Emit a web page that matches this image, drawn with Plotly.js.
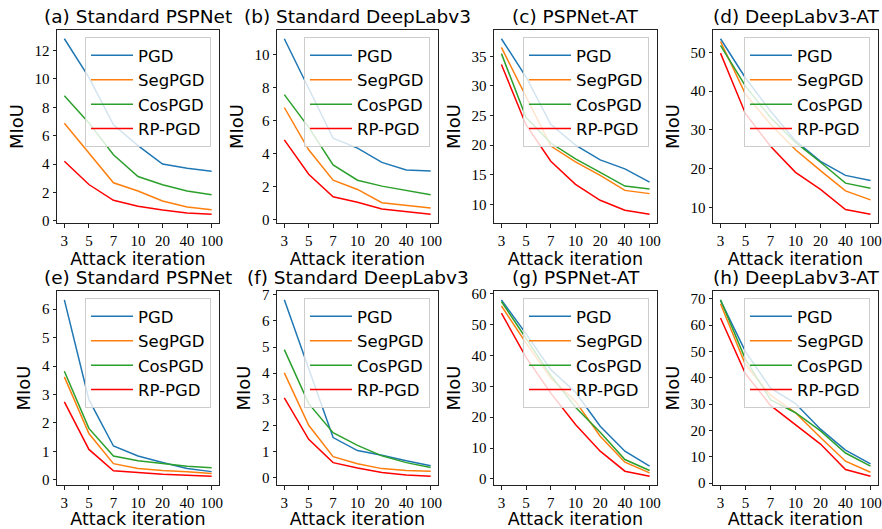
<!DOCTYPE html>
<html>
<head>
<meta charset="utf-8">
<script src="https://cdn.plot.ly/plotly-3.0.1.min.js"></script>
<style>html,body{margin:0;padding:0;background:#fff;}#chart{width:882px;height:529px;}</style>
</head>
<body>
<div id="chart"></div>
<script>
const iterations = ['3', '5', '7', '10', '20', '40', '100'];
const seriesNames = ['PGD', 'SegPGD', 'CosPGD', 'RP-PGD'];
const panelTitles = ['(a) Standard PSPNet', '(b) Standard DeepLabv3', '(c) PSPNet-AT', '(d) DeepLabv3-AT',
                     '(e) Standard PSPNet', '(f) Standard DeepLabv3', '(g) PSPNet-AT', '(h) DeepLabv3-AT'];

// (a) Standard PSPNet
const a_pgd    = [12.82, 10.1, 6.76, 5.3, 4.0, 3.7, 3.5];
const a_segpgd = [6.88, 4.75, 2.68, 2.1, 1.4, 0.98, 0.79];
const a_cospgd = [8.81, 6.9, 4.66, 3.12, 2.54, 2.1, 1.84];
const a_rppgd  = [4.2, 2.56, 1.45, 1.03, 0.77, 0.56, 0.47];
// (b) Standard DeepLabv3
const b_pgd    = [10.96, 7.96, 4.94, 4.34, 3.48, 3.02, 2.96];
const b_segpgd = [6.8, 4.24, 2.4, 1.84, 1.04, 0.86, 0.72];
const b_cospgd = [7.58, 5.6, 3.32, 2.4, 2.04, 1.8, 1.52];
const b_rppgd  = [4.84, 2.76, 1.4, 1.06, 0.66, 0.48, 0.34];
// (c) PSPNet-AT
const c_pgd    = [37.96, 31.5, 23.5, 20.0, 17.5, 15.98, 13.75];
const c_segpgd = [36.5, 28.3, 19.84, 17.16, 14.87, 12.35, 11.8];
const c_cospgd = [35.45, 24.65, 20.35, 17.66, 15.4, 13.08, 12.57];
const c_rppgd  = [33.6, 23.4, 17.27, 13.36, 10.67, 9.0, 8.32];
// (d) DeepLabv3-AT
const d_pgd    = [53.5, 43.4, 34.9, 27.2, 21.9, 18.3, 17.0];
const d_segpgd = [52.8, 39.2, 31.5, 24.9, 19.55, 14.3, 12.0];
const d_cospgd = [51.8, 41.3, 33.2, 26.8, 21.7, 16.3, 15.0];
const d_rppgd  = [49.8, 34.2, 25.8, 19.1, 14.7, 9.5, 8.3];
// (e) Standard PSPNet
const e_pgd    = [6.33, 2.82, 1.19, 0.84, 0.61, 0.4, 0.29];
const e_segpgd = [3.62, 1.63, 0.57, 0.4, 0.33, 0.29, 0.22];
const e_cospgd = [3.82, 1.81, 0.84, 0.67, 0.58, 0.48, 0.43];
const e_rppgd  = [2.74, 1.07, 0.32, 0.25, 0.2, 0.16, 0.13];
// (f) Standard DeepLabv3
const f_pgd    = [6.81, 4.2, 1.53, 1.03, 0.85, 0.64, 0.45];
const f_segpgd = [4.01, 2.0, 0.8, 0.53, 0.34, 0.27, 0.24];
const f_cospgd = [4.9, 2.83, 1.72, 1.23, 0.83, 0.57, 0.38];
const f_rppgd  = [3.05, 1.46, 0.57, 0.36, 0.19, 0.1, 0.05];
// (g) PSPNet-AT
const g_pgd    = [58.05, 47.0, 35.4, 28.06, 17.05, 8.96, 4.1];
const g_segpgd = [56.1, 44.0, 32.7, 25.1, 13.8, 5.4, 1.94];
const g_cospgd = [57.5, 45.5, 33.5, 23.2, 15.1, 6.26, 2.7];
const g_rppgd  = [53.7, 39.4, 27.8, 17.6, 8.96, 2.48, 0.86];
// (h) DeepLabv3-AT
const h_pgd    = [69.4, 49.9, 36.1, 30.2, 20.45, 12.5, 7.3];
const h_segpgd = [68.1, 44.9, 33.4, 26.7, 17.3, 8.3, 4.1];
const h_cospgd = [69.6, 47.0, 31.7, 26.7, 19.8, 11.4, 6.4];
const h_rppgd  = [62.7, 41.5, 29.5, 22.0, 14.8, 5.1, 2.6];

const panelData = [
  [a_pgd, a_segpgd, a_cospgd, a_rppgd],
  [b_pgd, b_segpgd, b_cospgd, b_rppgd],
  [c_pgd, c_segpgd, c_cospgd, c_rppgd],
  [d_pgd, d_segpgd, d_cospgd, d_rppgd],
  [e_pgd, e_segpgd, e_cospgd, e_rppgd],
  [f_pgd, f_segpgd, f_cospgd, f_rppgd],
  [g_pgd, g_segpgd, g_cospgd, g_rppgd],
  [h_pgd, h_segpgd, h_cospgd, h_rppgd]
];
const yDticks = [2, 2, 5, 10, 1, 1, 10, 10];

const colors = ['#1f77b4', '#ff7f0e', '#2ca02c', '#ff0000'];
const W = 882, H = 529;
const colPx = [[57, 219], [277, 438], [494, 657], [713, 878]];
const rowPx = [[30, 223], [291, 485]];

const sans = 'DejaVu Sans';
const serif = 'Liberation Serif';

const traces = [];
const layout = {
  width: W, height: H,
  margin: {l: 0, r: 0, t: 0, b: 0},
  paper_bgcolor: '#ffffff', plot_bgcolor: '#ffffff',
  showlegend: true,
  font: {family: sans, color: '#000'},
  annotations: []
};

for (let p = 0; p < 8; p++) {
  const r = Math.floor(p / 4), c = p % 4;
  const suf = p === 0 ? '' : String(p + 1);
  const legName = 'legend' + suf;
  const vals = panelData[p];
  let mn = Infinity, mx = -Infinity;
  vals.forEach(v => v.forEach(x => { mn = Math.min(mn, x); mx = Math.max(mx, x); }));
  const pad = (mx - mn) * 0.05;

  vals.forEach((v, i) => {
    traces.push({
      type: 'scatter', mode: 'lines',
      x: iterations, y: v, name: seriesNames[i],
      xaxis: 'x' + suf, yaxis: 'y' + suf,
      line: {color: colors[i], width: 1.5},
      legend: legName
    });
  });

  const xd = [colPx[c][0] / W, colPx[c][1] / W];
  const yd = [1 - rowPx[r][1] / H, 1 - rowPx[r][0] / H];

  layout['xaxis' + suf] = {
    domain: xd, anchor: 'y' + suf, type: 'category',
    range: [-0.3, 6.3], fixedrange: true,
    showline: true, mirror: true, linecolor: '#222', linewidth: 1,
    ticks: 'outside', ticklen: 3.5, tickwidth: 1, tickcolor: '#222',
    showgrid: false, zeroline: false,
    tickfont: {family: serif, size: 15, color: '#000'},
    title: {text: 'Attack iteration', font: {family: sans, size: 17.5, color: '#000'}, standoff: 2}
  };
  layout['yaxis' + suf] = {
    domain: yd, anchor: 'x' + suf,
    range: [mn - pad, mx + pad], dtick: yDticks[p], tick0: 0,
    showline: true, mirror: true, linecolor: '#222', linewidth: 1,
    ticks: 'outside', ticklen: 3.5, tickwidth: 1, tickcolor: '#222',
    showgrid: false, zeroline: false,
    tickfont: {family: serif, size: 15, color: '#000'},
    title: {text: 'MIoU', font: {family: sans, size: 18, color: '#000'}, standoff: 6}
  };

  layout[legName] = {
    x: (colPx[c][1] - 8) / W, xanchor: 'right',
    y: 1 - (rowPx[r][0] + 7) / H, yanchor: 'top',
    bgcolor: 'rgba(255,255,255,0.8)', bordercolor: '#cccccc', borderwidth: 1,
    font: {family: sans, size: 16.5, color: '#000'},
    itemwidth: 42,
    tracegroupgap: 0
  };

  layout.annotations.push({
    text: panelTitles[p], showarrow: false,
    xref: 'paper', yref: 'paper',
    x: (colPx[c][0] + colPx[c][1]) / 2 / W, xanchor: 'center',
    y: 1 - (rowPx[r][0] - 1) / H, yanchor: 'bottom',
    font: {family: sans, size: 18.5, color: '#000'}
  });
}

Plotly.newPlot('chart', traces, layout, {staticPlot: true, displayModeBar: false});
</script>
</body>
</html>
